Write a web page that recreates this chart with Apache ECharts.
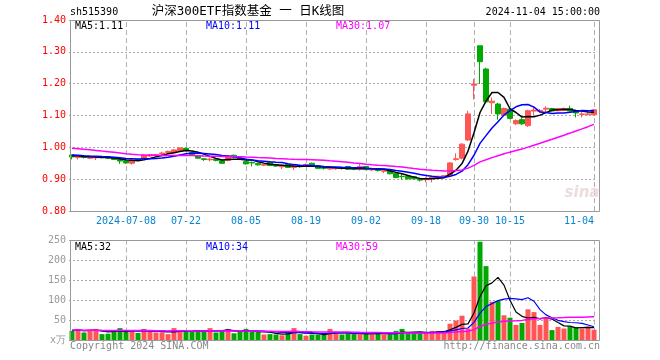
<!DOCTYPE html>
<html><head><meta charset="utf-8">
<script src="https://cdn.jsdelivr.net/npm/echarts@6/dist/echarts.min.js"></script>
<style>html,body{margin:0;padding:0;background:#fff}#c{width:660px;height:360px}</style>
</head><body><div id="c"></div>
<script>
const dates = [
'2024-06-25','2024-06-26','2024-06-27','2024-06-28',
'2024-07-01','2024-07-02','2024-07-03','2024-07-04','2024-07-05',
'2024-07-08','2024-07-09','2024-07-10','2024-07-11','2024-07-12',
'2024-07-15','2024-07-16','2024-07-17','2024-07-18','2024-07-19',
'2024-07-22','2024-07-23','2024-07-24','2024-07-25','2024-07-26',
'2024-07-29','2024-07-30','2024-07-31','2024-08-01','2024-08-02',
'2024-08-05','2024-08-06','2024-08-07','2024-08-08','2024-08-09',
'2024-08-12','2024-08-13','2024-08-14','2024-08-15','2024-08-16',
'2024-08-19','2024-08-20','2024-08-21','2024-08-22','2024-08-23',
'2024-08-26','2024-08-27','2024-08-28','2024-08-29','2024-08-30',
'2024-09-02','2024-09-03','2024-09-04','2024-09-05','2024-09-06',
'2024-09-09','2024-09-10','2024-09-11','2024-09-12','2024-09-13',
'2024-09-18','2024-09-19','2024-09-20',
'2024-09-23','2024-09-24','2024-09-25','2024-09-26','2024-09-27',
'2024-09-30',
'2024-10-08','2024-10-09','2024-10-10','2024-10-11',
'2024-10-14','2024-10-15','2024-10-16','2024-10-17','2024-10-18',
'2024-10-21','2024-10-22','2024-10-23','2024-10-24','2024-10-25',
'2024-10-28','2024-10-29','2024-10-30','2024-10-31','2024-11-01',
'2024-11-04'];

const opens = [
.976,.968,.972,.966,.967,.971,.969,.967,.963,.958,
.950,.962,.965,.973,.975,.979,.984,.983,.990,.997,
.984,.973,.964,.961,.963,.958,.959,.975,.966,.955,
.953,.949,.944,.953,.944,.939,.946,.937,.942,.944,
.950,.942,.936,.932,.933,.936,.940,.933,.930,.940,
.929,.930,.925,.928,.918,.909,.909,.908,.899,.898,
.903,.903,.907,.914,.962,.966,1.023,1.195,1.319,1.246,
1.140,1.136,1.102,1.120,1.074,1.087,1.068,1.114,1.113,1.120,
1.122,1.115,1.116,1.122,1.112,1.103,1.103,1.102];
const closes = [
.970,.971,.968,.970,.969,.967,.966,.962,.957,.951,
.960,.960,.976,.977,.977,.982,.987,.992,.998,.990,
.977,.966,.962,.963,.959,.950,.973,.969,.962,.948,
.951,.945,.946,.943,.941,.943,.937,.941,.939,.946,
.940,.934,.934,.935,.936,.934,.931,.931,.940,.930,
.931,.927,.927,.917,.905,.908,.901,.901,.897,.900,
.906,.909,.911,.951,.964,1.010,1.105,1.199,1.269,1.143,
1.145,1.105,1.122,1.091,1.084,1.074,1.115,1.117,1.116,1.123,
1.114,1.122,1.122,1.114,1.108,1.105,1.105,1.118];
const lows = [
.962,.962,.965,.963,.960,.965,.963,.960,.948,.948,
.946,.957,.963,.970,.972,.976,.981,.981,.988,.988,
.975,.964,.957,.956,.956,.948,.956,.966,.960,.946,
.940,.942,.941,.941,.939,.932,.935,.929,.936,.941,
.938,.932,.930,.929,.930,.930,.929,.928,.927,.928,
.926,.924,.919,.915,.903,.899,.899,.899,.893,.890,
.890,.901,.905,.912,.958,.962,1.020,1.150,1.199,1.142,
1.105,1.087,1.098,1.088,1.070,1.070,1.064,1.102,1.108,1.110,
1.112,1.113,1.114,1.112,1.094,1.094,1.100,1.100];
const highs = [
.978,.974,.974,.972,.972,.973,.971,.969,.965,.960,
.962,.964,.977,.979,.979,.986,.990,.994,1.000,.999,
.986,.974,.966,.968,.965,.960,.975,.977,.968,.957,
.955,.951,.948,.954,.946,.946,.947,.945,.944,.950,
.952,.943,.938,.938,.939,.938,.941,.934,.947,.941,
.933,.931,.930,.929,.919,.916,.910,.909,.901,.906,
.908,.911,.913,.953,.981,1.013,1.115,1.215,1.319,1.250,
1.157,1.140,1.125,1.124,1.088,1.092,1.118,1.129,1.120,1.129,
1.124,1.124,1.125,1.131,1.114,1.112,1.108,1.120];
const volumes = [
24,29,20,26,29,16,17,26,31,22,
26,19,29,22,20,20,16,31,26,22,
22,22,26,31,20,26,29,18,22,29,
22,21,15,16,15,13,24,31,16,12,
15,15,15,29,22,15,18,16,18,16,
15,21,15,15,24,29,18,18,18,20,
24,24,24,42,50,62,30,160,247,186,
97,99,63,57,39,44,78,71,39,54,
26,34,30,35,33,30,35,27];
// estimated closes / volumes of the 29 sessions before the first visible day (for the moving averages)
const priorCloses = [1.015,1.020,1.025,1.030,1.028,1.022,1.018,1.015,1.020,1.012,
1.005,1.000,0.998,0.995,0.992,0.990,0.995,0.993,0.990,0.992,
0.985,0.982,0.978,0.975,0.975,0.972,0.978,0.975,0.973];
const priorVolumes = [30,28,25,32,27,24,29,26,31,25,23,28,26,30,24,27,25,22,28,26,24,27,23,25,29,22,26,24,27];
const tickDates = ['2024-07-08','2024-07-22','2024-08-05','2024-08-19','2024-09-02','2024-09-18','2024-09-30','2024-10-15','2024-11-04'];
const priceTicks = [0.80,0.90,1.00,1.10,1.20,1.30,1.40];
const volumeTicks = [0,50,100,150,200,250];

function movingAvg(n, values, prior) {
  const all = prior.concat(values), off = prior.length, out = [];
  for (let i = 0; i < values.length; i++) {
    const j = i + off; let s = 0, c = 0;
    for (let k = Math.max(0, j - n + 1); k <= j; k++) { s += all[k]; c++; }
    out.push(s / c);
  }
  return out;
}
const ma5 = movingAvg(5, closes, priorCloses), ma10 = movingAvg(10, closes, priorCloses), ma30 = movingAvg(30, closes, priorCloses);
const vma5 = movingAvg(5, volumes, priorVolumes), vma10 = movingAvg(10, volumes, priorVolumes), vma30 = movingAvg(30, volumes, priorVolumes);

const UP = '#ff5555', DOWN = '#00a800';
const MONO = '"DejaVu Sans Mono", monospace';
const kData = dates.map((d, i) => [opens[i], closes[i], lows[i], highs[i]]);
const volData = volumes.map((v, i) => ({ value: v, itemStyle: { color: closes[i] >= opens[i] ? UP : DOWN } }));
const last = a => a[a.length - 1];

const gridLine = { show: true, lineStyle: { color: '#aaa', type: [2, 2], width: 1 } };
const dateTick = (len) => ({
  show: true, inside: true, length: len, alignWithLabel: true,
  interval: (i, v) => tickDates.indexOf(v) >= 0,
  lineStyle: { color: '#b0b0b0', type: [5, 3], width: 1 }
});
const lineS = (name, data, color, xi, w) => ({
  type: 'line', name, data, xAxisIndex: xi, yAxisIndex: xi, showSymbol: false, symbol: 'none',
  lineStyle: { color, width: w }, itemStyle: { color }, z: 5, silent: true
});
const txt = (text, x, y, fill, size, align, font) => ({
  type: 'text', x, y, silent: true, z: 100,
  style: { text, fill, font: (size || 10) + 'px ' + (font || MONO), textAlign: align || 'left', textVerticalAlign: 'middle' }
});

const chart = echarts.init(document.getElementById('c'), null, { renderer: 'canvas' });
chart.setOption({
  animation: false,
  backgroundColor: '#fff',
  grid: [
    { left: 69, top: 20, width: 528, height: 191, outerBoundsMode: 'none', containLabel: false },
    { left: 69, top: 240.5, width: 528, height: 100, outerBoundsMode: 'none', containLabel: false }
  ],
  xAxis: [
    { type: 'category', gridIndex: 0, data: dates, boundaryGap: true,
      axisLine: { show: false }, axisTick: dateTick(191), splitLine: { show: false },
      axisLabel: { show: true, interval: (i, v) => tickDates.indexOf(v) >= 0, color: '#0a84d0', fontFamily: MONO, fontSize: 10, margin: 5,
        alignMaxLabel: 'right', formatter: v => v === '2024-07-08' ? v : v.slice(5) } },
    { type: 'category', gridIndex: 1, data: dates, boundaryGap: true,
      axisLine: { show: false }, axisTick: dateTick(100), splitLine: { show: false }, axisLabel: { show: false } }
  ],
  yAxis: [
    { type: 'value', gridIndex: 0, min: priceTicks[0], max: last(priceTicks), interval: 0.1, scale: true,
      axisLine: { show: false }, axisTick: { show: false }, splitLine: gridLine,
      axisLabel: { color: '#ff0000', fontFamily: MONO, fontSize: 10, margin: 3, formatter: v => v.toFixed(2) } },
    { type: 'value', gridIndex: 1, min: volumeTicks[0], max: last(volumeTicks), interval: 50,
      axisLine: { show: false }, axisTick: { show: false }, splitLine: gridLine,
      axisLabel: { color: '#999', fontFamily: MONO, fontSize: 10, margin: 3, formatter: v => v === 0 ? 'x万' : String(v) } }
  ],
  series: [
    { type: 'candlestick', xAxisIndex: 0, yAxisIndex: 0, data: kData, barWidth: 5, silent: true,
      itemStyle: { color: UP, color0: DOWN, borderColor: UP, borderColor0: DOWN, borderWidth: 1 } },
    lineS('MA5', ma5, '#000000', 0, 1.5), lineS('MA10', ma10, '#0000ff', 0, 1.5), lineS('MA30', ma30, '#ff00ff', 0, 1.5),
    { type: 'bar', xAxisIndex: 1, yAxisIndex: 1, data: volData, barWidth: 5, silent: true },
    lineS('VMA5', vma5, '#000000', 1, 1.2), lineS('VMA10', vma10, '#0000ff', 1, 1.2), lineS('VMA30', vma30, '#ff00ff', 1, 1.5)
  ],
  graphic: [
    { type: 'rect', silent: true, z: 90, shape: { x: 70.5, y: 20.5, width: 529, height: 191 }, style: { fill: 'none', stroke: '#999', lineWidth: 1 } },
    { type: 'rect', silent: true, z: 90, shape: { x: 70.5, y: 240.5, width: 529, height: 100 }, style: { fill: 'none', stroke: '#999', lineWidth: 1 } },
    txt('sh515390', 70, 12, '#000', 10),
    txt('沪深300ETF指数基金 一 日K线图', 248, 12, '#000', 12.5, 'center', '"DejaVu Sans Mono", "Noto Sans CJK SC", sans-serif'),
    txt('2024-11-04 15:00:00', 600, 12, '#000', 10, 'right'),
    txt('MA5:' + last(ma5).toFixed(2), 75, 26, '#000', 10),
    txt('MA10:' + last(ma10).toFixed(2), 206, 26, '#0000ff', 10),
    txt('MA30:' + last(ma30).toFixed(2), 336, 26, '#ff00ff', 10),
    txt('MA5:' + last(vma5).toFixed(0), 75, 247, '#000', 10),
    txt('MA10:' + last(vma10).toFixed(0), 206, 247, '#0000ff', 10),
    txt('MA30:' + last(vma30).toFixed(0), 336, 247, '#ff00ff', 10),
    txt('Copyright 2024 SINA.COM', 70, 346, '#888', 10),
    txt('http://finance.sina.com.cn', 600, 346, '#888', 10, 'right'),
    { type: 'text', x: 582, y: 193, silent: true, z: 1,
      style: { text: 'sina', fill: '#ecdcdc', font: 'italic bold 15px "DejaVu Sans", sans-serif', textAlign: 'center', textVerticalAlign: 'middle' } }
  ]
});
</script></body></html>
